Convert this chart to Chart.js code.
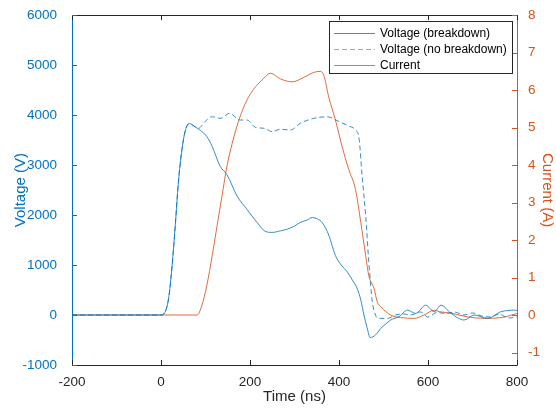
<!DOCTYPE html>
<html>
<head>
<meta charset="utf-8">
<script src="https://cdn.jsdelivr.net/npm/chart.js@4.4.1/dist/chart.umd.min.js"></script>
<style>
  html, body { margin: 0; padding: 0; background: #fff; }
  #pulseChart { display: block; }
</style>
</head>
<body>
<canvas id="pulseChart" width="556" height="409"></canvas>
<script>
// Voltage with breakdown (ns, V)
const timeBreak = [-200, 0, 6, 17, 25, 32, 39, 47, 55, 64, 74, 84, 103, 115, 133, 148, 171, 193, 216, 235, 250, 269, 284, 300, 313, 328, 340, 352, 362, 377, 392, 405, 419, 430, 441, 449, 456, 463, 470, 482, 494, 505, 516, 535, 554, 572, 595, 614, 629, 652, 681, 704, 734, 764, 794, 800];
const voltBreak = [0, 0, 20, 329, 990, 1784, 2645, 3306, 3702, 3830, 3780, 3722, 3570, 3371, 2975, 2810, 2379, 2115, 1851, 1670, 1653, 1685, 1718, 1780, 1851, 1900, 1950, 1920, 1851, 1600, 1189, 1000, 859, 700, 528, 300, 0, -250, -450, -400, -266, -180, -101, -30, 98, 32, 196, 65, 196, 32, -100, 0, -67, 65, 98, 90];

// Voltage without breakdown (ns, V)
const timeNoBreak = [-200, 0, 6, 17, 25, 32, 39, 47, 55, 64, 74, 84, 100, 115, 133, 154, 178, 193, 212, 231, 250, 268, 291, 313, 343, 374, 396, 422, 437, 445, 452, 460, 467, 475, 482, 490, 509, 527, 545, 561, 583, 600, 620, 640, 660, 680, 700, 720, 740, 760, 780, 800];
const voltNoBreak = [0, 0, 20, 329, 990, 1784, 2645, 3306, 3702, 3830, 3780, 3736, 3880, 3966, 3934, 4034, 3901, 3901, 3756, 3736, 3669, 3716, 3702, 3835, 3934, 3966, 3887, 3781, 3702, 3537, 2776, 1982, 1057, 264, 0, -67, -67, 0, 20, 0, 60, -40, 50, 30, 60, 0, 40, -20, -40, 20, -60, -40];

// Current (ns, A)
const timeCurrent = [-200, 0, 81, 92, 103, 115, 126, 137, 148, 160, 175, 193, 210, 230, 246, 268, 295, 321, 343, 358, 366, 377, 392, 407, 422, 437, 449, 460, 467, 479, 486, 494, 505, 516, 527, 539, 569, 591, 614, 625, 652, 689, 726, 764, 800];
const current = [0, 0, 0, 0.26, 0.79, 1.58, 2.38, 3.17, 3.96, 4.58, 5.2, 5.73, 6.05, 6.3, 6.45, 6.3, 6.22, 6.34, 6.47, 6.5, 6.39, 5.81, 5.2, 4.49, 3.88, 3.35, 2.47, 1.58, 1.05, 0.7, 0.35, 0.22, 0.09, 0, -0.05, -0.07, -0.09, 0, 0.13, 0.09, 0.05, -0.05, -0.09, -0.07, 0.04];

// tick values
const timeTicks = [-200, 0, 200, 400, 600, 800];
const voltTicks = [-1000, 0, 1000, 2000, 3000, 4000, 5000, 6000];
const currentTicks = [-1, 0, 1, 2, 3, 4, 5, 6, 7, 8];

const blue = '#0072BD';
const orange = '#D95319';
const blueLine = 'rgba(0,114,189,0.8)';
const orangeLine = 'rgba(217,83,25,0.85)';
const dark = '#262626';
const font = 'Liberation Sans, Arial, Helvetica, sans-serif';

const legendColors = ['#3d93cc', '#7ab4dd', '#e2764a'];
const legendDashed = [false, true, false];

const toPoints = function(xs, ys) {
  return xs.map((x, i) => ({ x: x, y: ys[i] }));
};

const setTicks = function(values) {
  return function(scale) {
    scale.ticks = values.map(v => ({ value: v }));
  };
};

const plainLabel = function(v) { return String(v); };

// MATLAB style: ticks pointing inward, box on top, legend inside
const boxPlugin = {
  id: 'boxPlugin',
  afterDraw(chart) {
    const c = chart.ctx;
    const a = chart.chartArea;
    const sx = chart.scales.x, yl = chart.scales.yV, yr = chart.scales.yI;
    const len = 5;
    c.save();
    // top line
    c.fillStyle = dark;
    c.fillRect(a.left, Math.round(a.top), a.right - a.left, 1);
    // x ticks top and bottom
    timeTicks.forEach(v => {
      const px = Math.round(sx.getPixelForValue(v));
      c.fillRect(px, a.bottom - len, 1, len);
      c.fillRect(px, a.top, 1, len);
    });
    c.fillStyle = blue;
    voltTicks.forEach(v => {
      const py = Math.round(yl.getPixelForValue(v));
      c.fillRect(a.left, py, len, 1);
    });
    c.fillStyle = orange;
    currentTicks.forEach(v => {
      const py = Math.round(yr.getPixelForValue(v));
      c.fillRect(a.right - len, py, len, 1);
    });

    // legend box
    c.font = '12px ' + font;
    const sets = chart.data.datasets;
    let tw = 0;
    sets.forEach(d => { tw = Math.max(tw, c.measureText(d.label).width); });
    const w = Math.round(5 + 41 + 5 + tw + 5);
    const h = 52;
    const bx = Math.round(a.right - 5 - w);
    const by = Math.round(a.top + 6);
    c.fillStyle = '#ffffff';
    c.fillRect(bx, by, w, h);
    c.fillStyle = dark;
    c.fillRect(bx, by, w, 1);
    c.fillRect(bx, by + h, w + 1, 1);
    c.fillRect(bx, by, 1, h);
    c.fillRect(bx + w, by, 1, h);
    for (let i = 0; i < sets.length; i++) {
      const ry = Math.round(by + 12 + i * 15.8);
      c.fillStyle = legendColors[i];
      if (legendDashed[i]) {
        for (let x = bx + 5; x < bx + 46; x += 8) {
          c.fillRect(x, ry, Math.min(5, bx + 46 - x), 1);
        }
      } else {
        c.fillRect(bx + 5, ry, 41, 1);
      }
      c.fillStyle = '#000000';
      c.textBaseline = 'middle';
      c.textAlign = 'left';
      c.fillText(sets[i].label, bx + 51, ry + 0.5);
    }
    c.restore();
  }
};

const ctx = document.getElementById('pulseChart').getContext('2d');
const pulseChart = new Chart(ctx, {
  type: 'line',
  data: {
    datasets: [
      {
        label: 'Voltage (breakdown)',
        data: toPoints(timeBreak, voltBreak),
        yAxisID: 'yV',
        borderColor: blueLine,
        borderWidth: 1,
        pointRadius: 0,
        cubicInterpolationMode: 'monotone'
      },
      {
        label: 'Voltage (no breakdown)',
        data: toPoints(timeNoBreak, voltNoBreak),
        yAxisID: 'yV',
        borderColor: blueLine,
        borderWidth: 1,
        borderDash: [5, 3],
        pointRadius: 0,
        cubicInterpolationMode: 'monotone'
      },
      {
        label: 'Current',
        data: toPoints(timeCurrent, current),
        yAxisID: 'yI',
        borderColor: orangeLine,
        borderWidth: 1,
        pointRadius: 0,
        cubicInterpolationMode: 'monotone'
      }
    ]
  },
  options: {
    responsive: false,
    animation: false,
    devicePixelRatio: 1,
    layout: { padding: { top: 14, left: 0, right: 0, bottom: 0 } },
    plugins: {
      legend: { display: false },
      tooltip: { enabled: false }
    },
    scales: {
      x: {
        type: 'linear',
        min: -200,
        max: 800,
        afterBuildTicks: setTicks(timeTicks),
        afterFit(s) { s.height = 44; },
        grid: { display: false },
        border: { color: dark, width: 1 },
        ticks: { color: dark, font: { family: font, size: 13.5 }, padding: 1, maxRotation: 0, autoSkip: false, callback: plainLabel },
        title: { display: true, text: 'Time (ns)', color: dark, font: { family: font, size: 15 }, padding: { top: 0, bottom: 3 } }
      },
      yV: {
        type: 'linear',
        position: 'left',
        min: -1000,
        max: 6000,
        afterBuildTicks: setTicks(voltTicks),
        afterFit(s) { s.width = 72; },
        grid: { display: false },
        border: { color: blue, width: 1 },
        ticks: { color: blue, font: { family: font, size: 13.5 }, padding: 7, autoSkip: false, callback: plainLabel },
        title: { display: true, text: 'Voltage (V)', color: blue, font: { family: font, size: 15 }, padding: { top: 12, bottom: 0 } }
      },
      yI: {
        type: 'linear',
        position: 'right',
        min: -4 / 3,
        max: 8,
        afterBuildTicks: setTicks(currentTicks),
        afterFit(s) { s.width = 39; },
        grid: { display: false },
        border: { color: orange, width: 1 },
        ticks: { color: orange, font: { family: font, size: 13.5 }, padding: 3, autoSkip: false, callback: plainLabel },
        title: { display: true, text: 'Current (A)', color: orange, font: { family: font, size: 15 }, padding: { top: 0, bottom: 2 } }
      }
    }
  },
  plugins: [boxPlugin]
});
</script>
</body>
</html>
